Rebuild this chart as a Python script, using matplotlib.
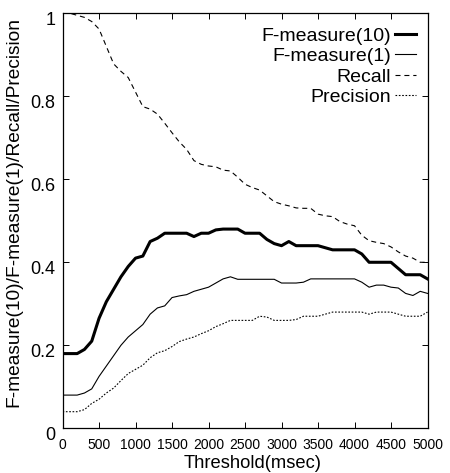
import matplotlib
matplotlib.use("Agg")
import matplotlib.pyplot as plt
import matplotlib.transforms as mtransforms
import numpy as np

# threshold in msec, one sample every 100 msec
threshold = np.arange(0, 5001, 100)

f10 = [0.18, 0.18, 0.18, 0.19, 0.21, 0.265, 0.305, 0.335, 0.365, 0.39,
       0.41, 0.415, 0.45, 0.458, 0.47, 0.47, 0.47, 0.47, 0.462, 0.47,
       0.47, 0.478, 0.48, 0.48, 0.48, 0.47, 0.47, 0.47, 0.455, 0.445,
       0.44, 0.45, 0.44, 0.44, 0.44, 0.44, 0.435, 0.43, 0.43, 0.43,
       0.43, 0.42, 0.40, 0.40, 0.40, 0.40, 0.385, 0.37, 0.37, 0.37,
       0.36]

f1 = [0.08, 0.08, 0.08, 0.085, 0.095, 0.125, 0.15, 0.175, 0.20, 0.22,
      0.235, 0.25, 0.275, 0.29, 0.295, 0.315, 0.319, 0.322, 0.33, 0.335,
      0.34, 0.35, 0.36, 0.365, 0.359, 0.359, 0.359, 0.359, 0.359, 0.359,
      0.35, 0.35, 0.35, 0.352, 0.36, 0.36, 0.36, 0.36, 0.36, 0.36,
      0.36, 0.352, 0.34, 0.345, 0.345, 0.34, 0.338, 0.325, 0.32, 0.33,
      0.325]

recall = [1.0, 1.0, 0.995, 0.99, 0.98, 0.962, 0.92, 0.878, 0.86, 0.845,
          0.81, 0.775, 0.769, 0.757, 0.735, 0.712, 0.69, 0.672, 0.645, 0.636,
          0.632, 0.63, 0.622, 0.62, 0.605, 0.588, 0.58, 0.574, 0.56, 0.546,
          0.54, 0.536, 0.531, 0.53, 0.53, 0.516, 0.512, 0.51, 0.498, 0.492,
          0.488, 0.465, 0.452, 0.448, 0.445, 0.437, 0.425, 0.415, 0.41, 0.40,
          0.40]

precision = [0.04, 0.04, 0.04, 0.045, 0.06, 0.07, 0.085, 0.097, 0.115, 0.132,
             0.142, 0.152, 0.17, 0.182, 0.187, 0.197, 0.209, 0.215, 0.22, 0.228,
             0.235, 0.245, 0.252, 0.26, 0.26, 0.26, 0.26, 0.27, 0.268, 0.26,
             0.26, 0.26, 0.262, 0.27, 0.27, 0.27, 0.275, 0.28, 0.28, 0.28,
             0.28, 0.28, 0.275, 0.28, 0.28, 0.28, 0.275, 0.27, 0.27, 0.27,
             0.28]

xticks = np.arange(0, 5001, 500)
yticks = [0, 0.2, 0.4, 0.6, 0.8, 1]
yticklabels = ["0", "0.2", "0.4", "0.6", "0.8", "1"]

plt.rcParams['font.family'] = ['Liberation Sans', 'DejaVu Sans']

fig = plt.figure(figsize=(4.5, 4.73), dpi=100)
ax = fig.add_axes([0.139, 0.0945, 0.811, 0.8775])

ax.plot(threshold, f10, color='black', lw=2.2, label='F-measure(10)')
ax.plot(threshold, f1, color='black', lw=0.8, label='F-measure(1)')
ax.plot(threshold, recall, color='black', lw=0.8, dashes=(4.5, 3.5), label='Recall')
ax.plot(threshold, precision, color='black', lw=0.8, dashes=(1.5, 1.5), label='Precision')

ax.set_xlim(0, 5000)
ax.set_ylim(0, 1)
ax.set_xticks(xticks)
ax.set_xticklabels([str(t) for t in xticks], fontsize=10)
ax.set_yticks(yticks)
ax.set_yticklabels(yticklabels, fontsize=13)
ax.tick_params(direction='in', length=4.5, width=0.7, top=True, right=True)
ax.tick_params(axis='y', pad=5)
ax.tick_params(axis='x', pad=7)
for s in ax.spines.values():
    s.set_linewidth(0.9)

# gnuplot puts the y tick labels a little below the tick
off = mtransforms.ScaledTranslation(0, -5 / 100, fig.dpi_scale_trans)
for lbl in ax.get_yticklabels():
    lbl.set_transform(lbl.get_transform() + off)

ax.set_xlabel('Threshold(msec)', fontsize=13.2, labelpad=2)
ax.xaxis.set_label_coords(0.52, -0.065)
ax.set_ylabel('F-measure(10)/F-measure(1)/Recall/Precision', fontsize=13.8)
ax.yaxis.set_label_coords(-0.11, 0.52)

ax.legend(loc='upper right', frameon=False, markerfirst=False, fontsize=14,
          handlelength=1.1, handletextpad=0.2, labelspacing=0.14,
          borderaxespad=0.0, bbox_to_anchor=(0.99, 0.985))

fig.savefig('out.png', dpi=100)
